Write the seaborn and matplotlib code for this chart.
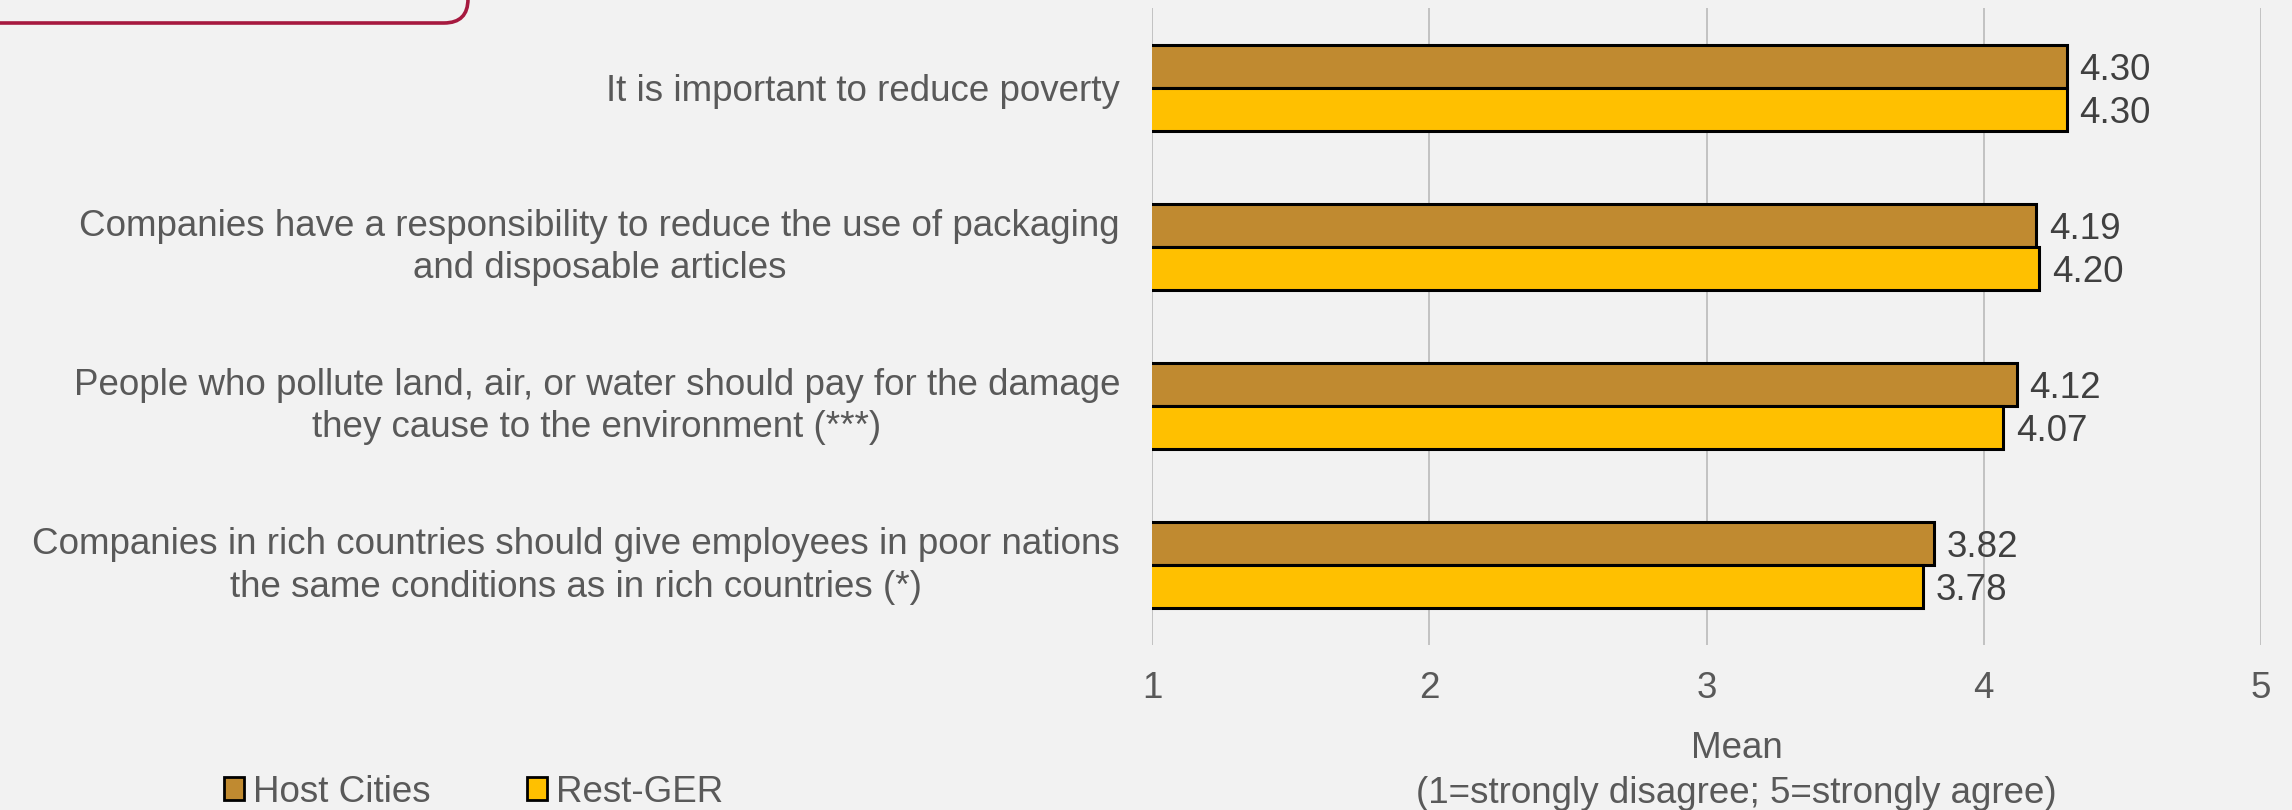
import matplotlib
matplotlib.use("Agg")
import matplotlib.pyplot as plt
import matplotlib.transforms as mtransforms
import seaborn as sns
import pandas as pd
from matplotlib.patches import FancyBboxPatch, Patch

categories = [
    "It is important to reduce poverty",
    "Companies have a responsibility to reduce the use of packaging\nand disposable articles",
    "People who pollute land, air, or water should pay for the damage\nthey cause to the environment (***)",
    "Companies in rich countries should give employees in poor nations\nthe same conditions as in rich countries (*)",
]
host_cities = [4.30, 4.19, 4.12, 3.82]
rest_ger = [4.30, 4.20, 4.07, 3.78]
groups = ["Host Cities", "Rest-GER"]
x_ticks = [1, 2, 3, 4, 5]

df = pd.DataFrame({
    "statement": categories * 2,
    "group": [groups[0]] * len(categories) + [groups[1]] * len(categories),
    "mean": host_cities + rest_ger,
})

BG = "#F2F2F2"
TXT = "#595959"
colors = {"Host Cities": "#C08A30", "Rest-GER": "#FFC000"}

sns.set_theme(style="white")
plt.rcParams["font.family"] = ["Liberation Sans", "DejaVu Sans"]
FS = 26.5

fig = plt.figure(figsize=(22.92, 8.10), dpi=100, facecolor=BG)
ax = fig.add_axes([1152 / 2292, 1 - 645 / 810, (2261 - 1152) / 2292, (645 - 8) / 810])
ax.set_facecolor(BG)

sns.barplot(data=df, y="statement", x="mean", hue="group", hue_order=groups,
            order=categories, palette=colors, saturation=1, orient="h", width=0.54,
            edgecolor="black", linewidth=2.2, ax=ax, legend=False, zorder=3)

for cont in ax.containers:
    labs = ax.bar_label(cont, fmt="%.2f", padding=9, fontsize=FS, color="#404040")
    for t in labs:
        t.set_va("center_baseline")

ax.set_xlim(1, 5)
ax.set_xticks(x_ticks)
ax.set_xticklabels([str(t) for t in x_ticks])
ax.set_ylim(3.5, -0.5)
ax.grid(axis="x", color="#BFBFBF", linewidth=1.3, zorder=0)
ax.grid(axis="y", visible=False)
for s in ax.spines.values():
    s.set_visible(False)

ax.tick_params(axis="x", length=0, pad=19, labelsize=FS, labelcolor=TXT)
ax.tick_params(axis="y", length=0, pad=23, labelsize=FS, labelcolor=TXT)

ax.set_ylabel("")
ax.set_xlabel("Mean\n(1=strongly disagree; 5=strongly agree)", fontsize=FS, color=TXT,
              linespacing=1.36)
ax.xaxis.set_label_coords(0.527, -0.135)

handles = [Patch(facecolor=colors[g], edgecolor="black", linewidth=2.0) for g in groups]
fig.legend(handles, groups, loc="center left", bbox_to_anchor=(224 / 2292, 1 - 792 / 810),
           ncol=2, frameon=False, fontsize=FS, labelcolor=TXT, handlelength=0.55,
           handleheight=0.55, handletextpad=0.25, columnspacing=2.6, borderpad=0,
           borderaxespad=0)

box = FancyBboxPatch((-1.0, 7.87), 4.68 + 1.0, 2.0,
                     boxstyle="round,pad=0,rounding_size=0.24",
                     transform=fig.dpi_scale_trans, fill=False,
                     edgecolor="#A6193F", linewidth=2.6, clip_on=False)
fig.patches.append(box)

fig.canvas.draw()
shift = mtransforms.ScaledTranslation(0, 5 / 72, fig.dpi_scale_trans)
for tick in ax.yaxis.get_major_ticks():
    lab = tick.label1
    lab.set_multialignment("center")
    lab.set_linespacing(1.27)
    if "\n" in lab.get_text():
        lab.set_transform(lab.get_transform() + shift)

fig.savefig("out.png", dpi=100, facecolor=BG)
